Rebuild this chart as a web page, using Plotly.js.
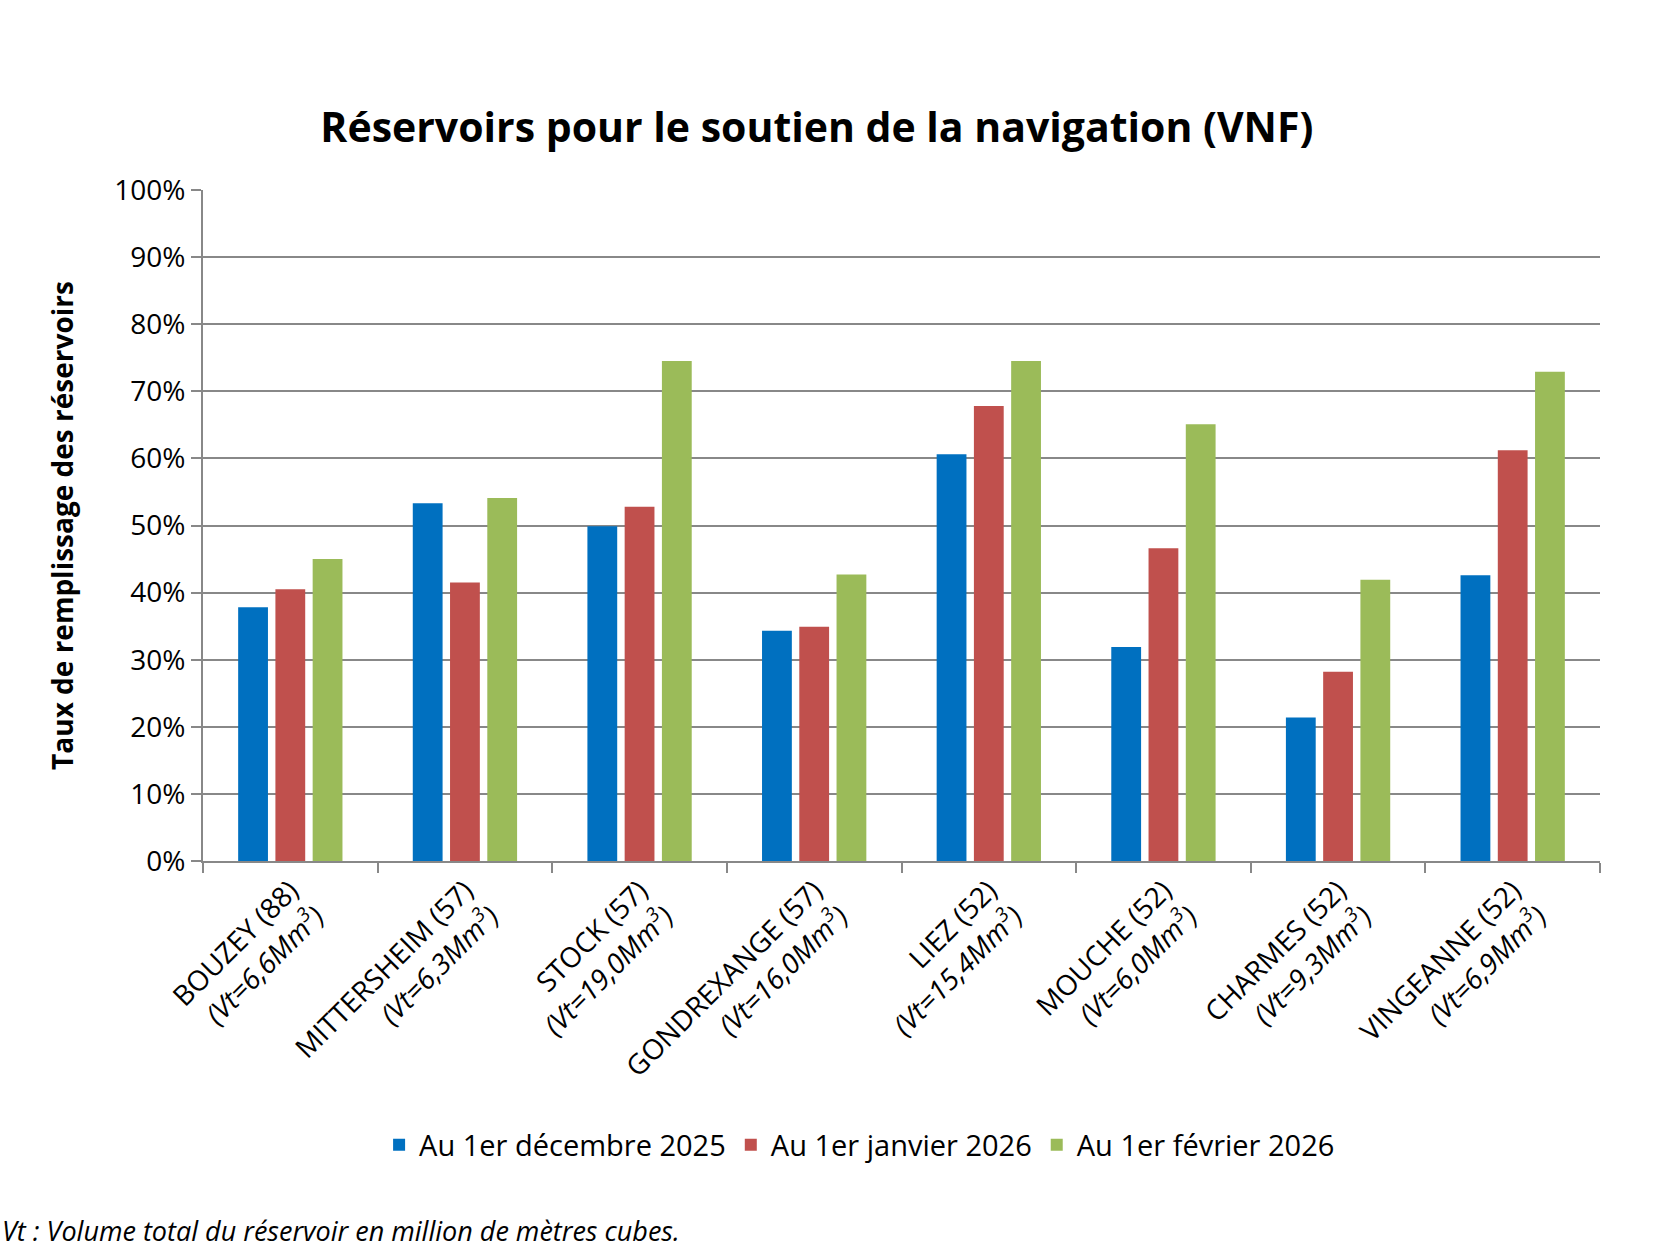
<!DOCTYPE html>
<html><head><meta charset="utf-8">
<script src="https://cdn.plot.ly/plotly-3.0.1.min.js"></script>
<style>body{margin:0;background:#fff}#chart{width:1667px;height:1250px}</style>
</head><body><div id="chart"></div>
<script>
var categories = [
  'BOUZEY (88)<br><i>(Vt=6,6Mm<sup>3</sup>)</i>',
  'MITTERSHEIM (57)<br><i>(Vt=6,3Mm<sup>3</sup>)</i>',
  'STOCK (57)<br><i>(Vt=19,0Mm<sup>3</sup>)</i>',
  'GONDREXANGE (57)<br><i>(Vt=16,0Mm<sup>3</sup>)</i>',
  'LIEZ (52)<br><i>(Vt=15,4Mm<sup>3</sup>)</i>',
  'MOUCHE (52)<br><i>(Vt=6,0Mm<sup>3</sup>)</i>',
  'CHARMES (52)<br><i>(Vt=9,3Mm<sup>3</sup>)</i>',
  'VINGEANNE (52)<br><i>(Vt=6,9Mm<sup>3</sup>)</i>'
]
var dec2025 = [0.378, 0.533, 0.499, 0.343, 0.606, 0.319, 0.214, 0.426]
var jan2026 = [0.405, 0.415, 0.528, 0.349, 0.678, 0.466, 0.282, 0.612]
var feb2026 = [0.450, 0.541, 0.745, 0.427, 0.745, 0.651, 0.419, 0.729]

var font = 'Open Sans, Lato, sans-serif'
function bar(name, y, color) {
    return {type: 'bar', name: name, x: categories, y: y, marker: {color: color}, hoverinfo: 'y'}
}
var data = [
    bar('Au 1er décembre 2025', dec2025, '#0070c0'),
    bar('Au 1er janvier 2026', jan2026, '#c0504d'),
    bar('Au 1er février 2026', feb2026, '#9bbb59')
]
var layout = {
    width: 1667, height: 1250,
    font: {family: font, size: 26, color: '#000'},
    paper_bgcolor: '#fff', plot_bgcolor: '#fff',
    margin: {l: 203, r: 67, t: 190, b: 389},
    title: {text: '<b>Réservoirs pour le soutien de la navigation (VNF)</b>', font: {size: 41}, x: 0.49, xanchor: 'center', y: 1 - 128/1250, yanchor: 'middle'},
    barmode: 'group', bargap: 0.36, bargroupgap: 0.2,
    xaxis: {tickangle: -45, showline: true, linecolor: '#888', linewidth: 2, ticks: 'outside', tickcolor: '#888', tickwidth: 2, ticklen: 10, tickson: 'boundaries', tickfont: {size: 28}, fixedrange: true},
    yaxis: {range: [0, 1], dtick: 0.1, tickformat: '.0%', showgrid: true, gridcolor: '#888', gridwidth: 2, showline: true, linecolor: '#888', linewidth: 2, ticks: 'outside', tickcolor: '#888', tickwidth: 2, ticklen: 10, tickfont: {size: 28}, fixedrange: true,
        title: {text: '<b>Taux de remplissage des réservoirs</b>', font: {size: 28}, standoff: 32}},
    showlegend: true,
    legend: {orientation: 'h', x: 0.47, xanchor: 'center', y: -0.385, yref: 'paper', yanchor: 'top', font: {size: 29}},
    annotations: [{text: '<i>Vt : Volume total du réservoir en million de mètres cubes.</i>', xref: 'paper', yref: 'paper', x: -203/1397, xanchor: 'left', y: -(1230-861)/671, yanchor: 'middle', showarrow: false, font: {size: 27}}]
}
Plotly.newPlot('chart', data, layout, {displayModeBar: false})
</script></body></html>
